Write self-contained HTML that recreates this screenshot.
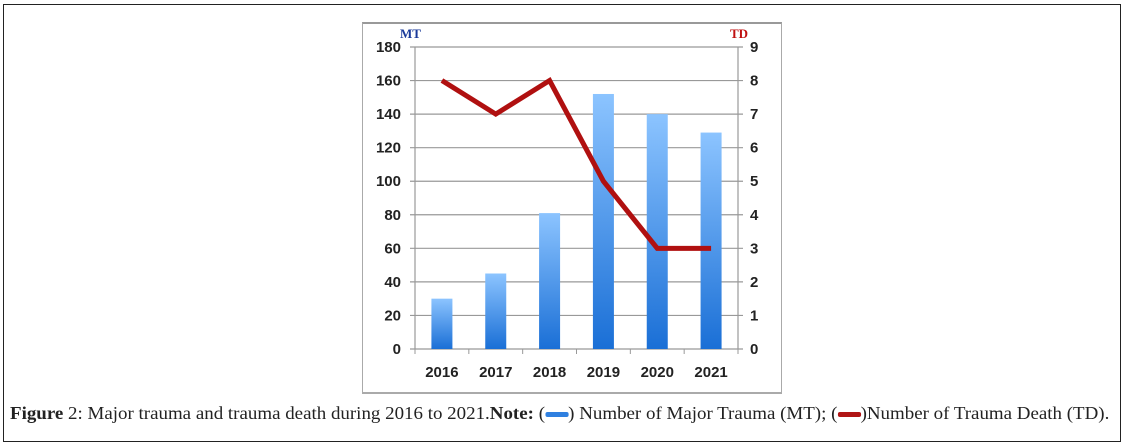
<!DOCTYPE html>
<html><head><meta charset="utf-8"><style>
body{margin:0;width:1130px;height:447px;background:#fff;overflow:hidden;position:relative;font-family:"Liberation Sans",sans-serif}
#outer{position:absolute;left:3px;top:4px;width:1116px;height:436px;border:1.5px solid #222}
#inner{position:absolute;left:362px;top:22px;width:418px;height:368px;border:1px solid #aaa;border-top:2px solid #999;border-bottom:2px solid #aaa}
#cap{position:absolute;left:10px;top:403px;font-family:"Liberation Serif",serif;font-size:18px;color:#222;white-space:nowrap;transform:scaleX(1.052);transform-origin:0 0}
.sw{display:inline-block;width:22px;height:5px;vertical-align:middle;border-radius:2px}
</style></head><body>
<div id="outer"></div>
<div id="inner"></div>
<svg id="chart" width="1130" height="447" style="position:absolute;left:0;top:0">
<defs><linearGradient id="bg" x1="0" y1="0" x2="0" y2="1"><stop offset="0" stop-color="#8cc4ff"/><stop offset="1" stop-color="#1a6fd6"/></linearGradient></defs>
<g id="g"></g></svg>
<div id="cap"><b>Figure</b> 2: Major trauma and trauma death during 2016 to 2021.<b>Note:</b> (<span class="sw" style="background:#2f80e0"></span>) Number of Major Trauma (MT); (<span class="sw" style="background:#b01515"></span>)Number of Trauma Death (TD).</div>
<script>
const categories=["2016","2017","2018","2019","2020","2021"];
const mtValues=[30,45,81,152,140,129];
const tdValues=[8,7,8,5,3,3];
const leftTicks=[0,20,40,60,80,100,120,140,160,180];
const rightTicks=[0,1,2,3,4,5,6,7,8,9];
const X0=415,X1=738,Y0=349,Y1=47;
const yL=v=>Y0-(v/180)*(Y0-Y1), yR=v=>Y0-(v/9)*(Y0-Y1);
const bw=(X1-X0)/categories.length, xc=i=>X0+bw*(i+0.5);
const g=document.getElementById('g'),NS="http://www.w3.org/2000/svg";
function mk(t,a,txt){const e=document.createElementNS(NS,t);for(const k in a)e.setAttribute(k,a[k]);if(txt!=null)e.textContent=txt;g.appendChild(e);return e;}
leftTicks.forEach((v,i)=>{
 const y=yL(v);
 let l=mk('line',{x1:X0-5,x2:X1+5,y1:y,y2:y,stroke:'#999','stroke-width':1.2});
 
 let t=mk('text',{x:X0-14,y:y+5,'text-anchor':'end','font-size':15,'font-weight':'bold',fill:'#222'},v);
 
 let r=mk('text',{x:X1+12,y:yR(rightTicks[i])+5,'font-size':15,'font-weight':'bold',fill:'#222'},rightTicks[i]);
 
});
let a1=mk('line',{x1:X0,x2:X0,y1:Y1,y2:Y0,stroke:'#999','stroke-width':1.2});
let a2=mk('line',{x1:X1,x2:X1,y1:Y1,y2:Y0,stroke:'#999','stroke-width':1.2});
for(let i=0;i<=categories.length;i++){let tk=mk('line',{x1:X0+bw*i,x2:X0+bw*i,y1:Y0,y2:Y0+5,stroke:'#999'});}
categories.forEach((c,i)=>{
 const y=yL(mtValues[i]);
 let b=mk('rect',{x:xc(i)-10.5,y:y,width:21,height:Y0-y,fill:'url(#bg)'});
 
 let t=mk('text',{x:xc(i),y:377,'text-anchor':'middle','font-size':15,'font-weight':'bold',fill:'#222'},c);
 
});
let p=mk('polyline',{points:tdValues.map((v,i)=>xc(i)+','+yR(v)).join(' '),fill:'none',stroke:'#b01010','stroke-width':5,'stroke-linejoin':'miter'});

let m=mk('text',{x:400,y:38,'font-size':13,'font-weight':'bold','font-family':'Liberation Serif',fill:'#1a3a9a'},'MT');

let d=mk('text',{x:730,y:38,'font-size':13,'font-weight':'bold','font-family':'Liberation Serif',fill:'#c01010'},'TD');

</script>
</body></html>
